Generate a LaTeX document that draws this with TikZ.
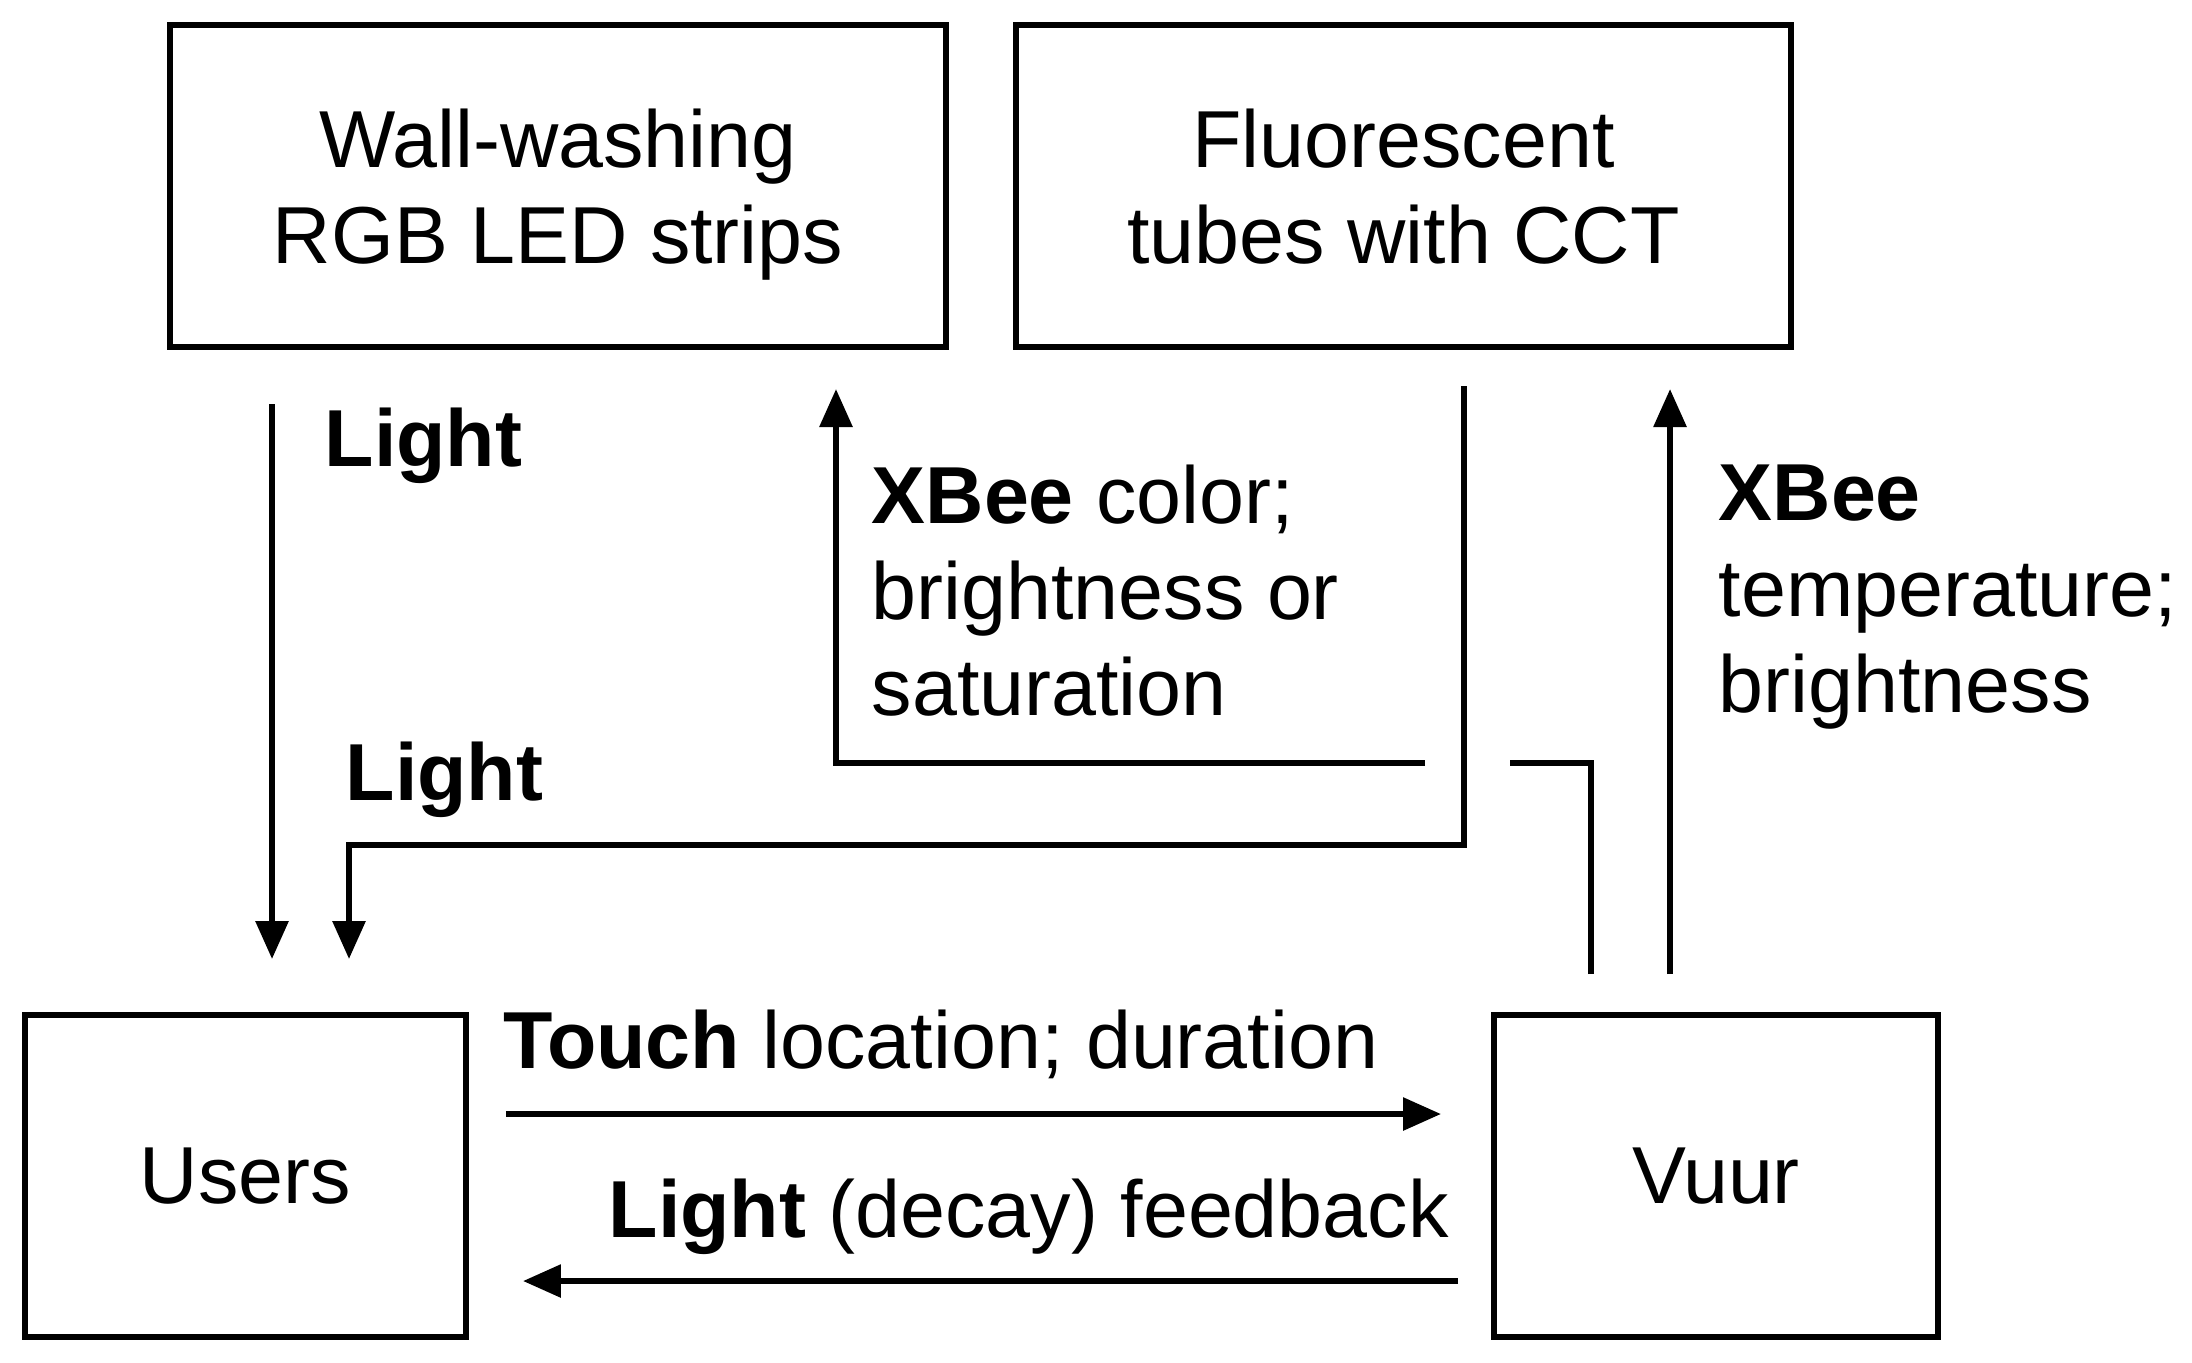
\documentclass[tikz,border=0pt]{standalone}
\usepackage{fontspec}
\setmainfont{Liberation Sans}
\usetikzlibrary{positioning, arrows.meta, calc}
\newcommand{\labelsize}{\fontsize{23}{27.4}\selectfont}
\tikzset{
  block/.style = {draw, line width=1.7pt, minimum height=3.22cm, align=center,
                  font=\labelsize, inner sep=0pt, text depth=0pt},
  line/.style  = {line width=1.7pt},
  arr/.style   = {line, -{Triangle[length=3.8mm, width=3.2mm]}},
  lbl/.style   = {font=\labelsize, inner sep=0pt},
}

\begin{document}
\begin{tikzpicture}
  \useasboundingbox (0,0) rectangle (21.92,-13.62);

  % the four blocks
  \node[block, minimum width=7.76cm] at ( 5.58,  -1.86) (wash)  {Wall-washing\\RGB LED strips};
  \node[block, minimum width=7.75cm] at (14.035, -1.86) (fluor) {Fluorescent\\tubes with CCT};
  \node[block, minimum width=4.41cm] at ( 2.455,-11.76) (users) {Users};
  \node[block, minimum width=4.44cm] at (17.16, -11.76) (vuur)  {Vuur};

  % labels
  \node[lbl, anchor=base west]  at ( 3.24, -4.66) (lightA) {\textbf{Light}};
  \node[lbl, anchor=base west]  at ( 3.45, -8.00) (lightB) {\textbf{Light}};
  \node[lbl, anchor=north west, align=left] at ( 8.71, -4.64) (xcol)
    {\textbf{XBee} color;\\brightness or\\saturation};
  \node[lbl, anchor=north west, align=left] at (17.18, -4.64) (xtemp)
    {\textbf{XBee}\\temperature;\\brightness};
  \node[lbl, anchor=base west]  at ( 5.03,-10.68) (touch) {\textbf{Touch} location; duration};
  \node[lbl, anchor=base west]  at ( 6.08,-12.37) (fback) {\textbf{Light} (decay) feedback};

  % light to the users
  \draw[arr, shorten <=0.54cm, shorten >=0.53cm] ([xshift=1.05cm]wash.south west) coordinate (w0) -- (w0 |- users.north);
  \draw[arr, shorten <=0.36cm, shorten >=0.53cm] ([xshift=4.51cm]fluor.south west) -- ++(0,-4.95) -| ([xshift=3.27cm]users.north west);

  % XBee commands, hop over the light line
  \coordinate (hopR) at (15.10,-7.63);
  \coordinate (hopL) at (14.25,-7.63);
  \draw[line, shorten <=0.38cm] ([xshift=1.00cm]vuur.north west) |- (hopR);
  \draw[arr, shorten >=0.39cm] (hopL) -| ([xshift=-1.13cm]wash.south east);
  \draw[arr, shorten <=0.38cm, shorten >=0.39cm] ([xshift=1.79cm]vuur.north west) coordinate (t0) -- (t0 |- fluor.south);

  % touch and feedback
  \draw[arr, shorten <=0.37cm, shorten >=0.50cm] ([yshift=0.62cm]users.east) coordinate (u0) -- (u0 -| vuur.west);
  \draw[arr, shorten <=0.33cm, shorten >=0.54cm] ([yshift=-1.05cm]vuur.west) coordinate (v0) -- (v0 -| users.east);
\end{tikzpicture}
\end{document}
